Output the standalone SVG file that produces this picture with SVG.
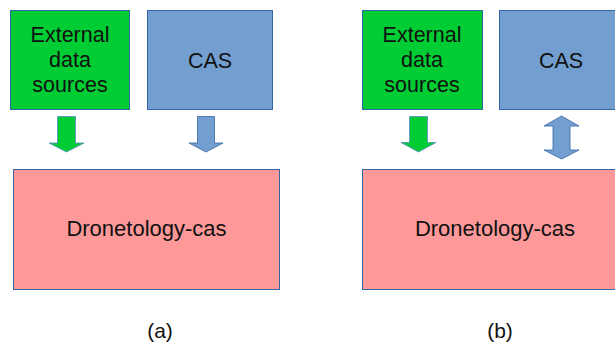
<svg xmlns="http://www.w3.org/2000/svg" width="615" height="343" viewBox="0 0 615 343">
<style>
text{font-family:"Liberation Sans",Arial,sans-serif;font-size:21.5px;fill:#111;text-anchor:middle}
.g{fill:#00cc33;stroke:#3465a4;stroke-width:1}
.b{fill:#729fcf;stroke:#3465a4;stroke-width:1}
.p{fill:#ff9999;stroke:#3465a4;stroke-width:1}
.ag{fill:#00cc33;stroke:#5b8cc8;stroke-width:0.8}
.ab{fill:#729fcf;stroke:#3465a4;stroke-width:0.8}
.big{font-size:22px}
.cap{font-size:21px}
</style>
<rect width="615" height="343" fill="#fff"/>
<g id="ext-a"><rect class="g" x="10.5" y="10.5" width="119" height="99"/><text x="70" y="42">External</text><text x="70" y="67">data</text><text x="70" y="92">sources</text></g>
<g id="cas-a"><rect class="b" x="147.5" y="10.5" width="125" height="99"/><text x="210" y="68">CAS</text></g>
<g id="dc-a"><rect class="p" x="13.5" y="169.5" width="266" height="120"/><text class="big" x="146.5" y="236">Dronetology-cas</text></g>
<g id="ext-b"><rect class="g" x="362.5" y="10.5" width="120" height="99"/><text x="422" y="42">External</text><text x="422" y="67">data</text><text x="422" y="92">sources</text></g>
<g id="cas-b"><rect class="b" x="499.5" y="10.5" width="130" height="99"/><text x="561" y="68">CAS</text></g>
<g id="dc-b"><rect class="p" x="362.5" y="169.5" width="270" height="120"/><text class="big" x="495" y="236">Dronetology-cas</text></g>
<g id="connectors">
<polygon class="ag" points="57.5,116.5 75.5,116.5 75.5,143 84,143 66.5,152 49,143 57.5,143"/>
<polygon class="ab" points="197.5,116.5 214.5,116.5 214.5,143 223,143 206,152 189,143 197.5,143"/>
<polygon class="ag" points="409.5,116.5 427.5,116.5 427.5,142.5 436,142.5 418.5,152 401,142.5 409.5,142.5"/>
<polygon class="ab" points="561.5,116 579,126 570,126 570,150 579,150 561.5,159 544,150 553,150 553,126 544,126"/>
</g>
<text class="cap" x="160" y="338">(a)</text>
<text class="cap" x="500" y="338">(b)</text>
</svg>
